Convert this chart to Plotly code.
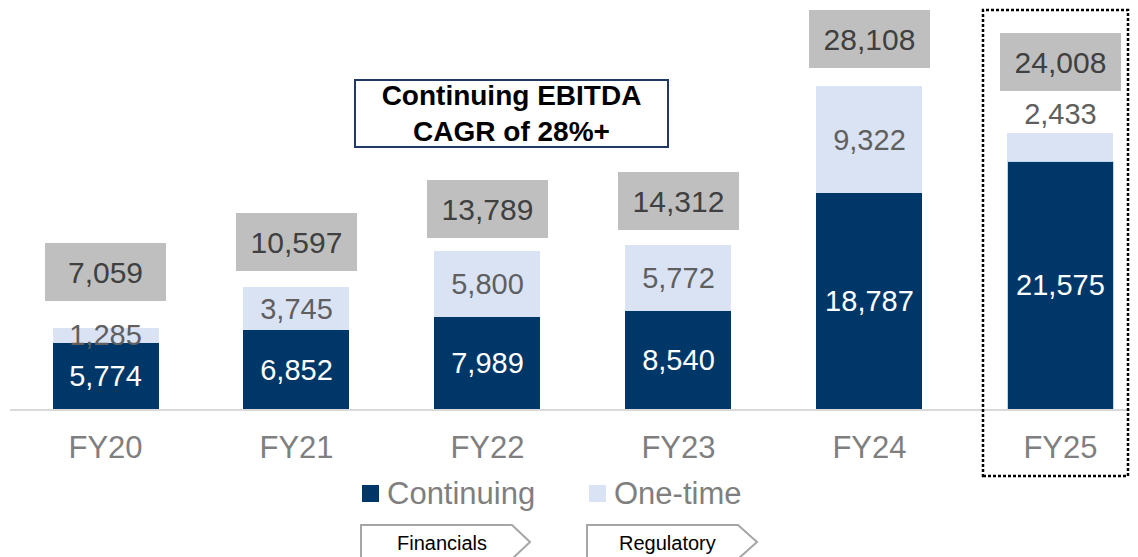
import plotly.graph_objects as go

# ---------------- data ----------------
categories = ["FY20", "FY21", "FY22", "FY23", "FY24", "FY25"]
continuing = [5774, 6852, 7989, 8540, 18787, 21575]
one_time = [1285, 3745, 5800, 5772, 9322, 2433]
totals = [7059, 10597, 13789, 14312, 28108, 24008]
series_names = ["Continuing", "One-time"]
cagr_text = "<b>Continuing EBITDA<br>CAGR of 28%+</b>"
tab_labels = ["Financials", "Regulatory"]

# ---------------- style / layout ----------------
OFF = 8                      # default page body margin
W, H = 1138 - OFF, 557 - OFF
L, R, T, B = 2, 0, 0, 148
PW, PH = W - L - R, H - T - B
NAVY = "#003769"
LIGHT = "#DAE3F3"
GREY_BOX = "#BFBFBF"
FONT = "Arial, Liberation Sans, sans-serif"
one_time_pos = ["inside", "inside", "inside", "inside", "inside", "outside"]
total_box_gap_px = [27, 16, 13, 15, 18, 42]


def pp(px, py):
    """page pixel -> paper coords"""
    return (px - OFF - L) / PW, 1 - (py - OFF - T) / PH


fig = go.Figure()
fig.add_bar(
    x=categories, y=continuing, name=series_names[0],
    marker=dict(color=NAVY, line=dict(color=["rgba(0,0,0,0)"] * 5 + ["#BDD7EE"], width=1)),
    width=0.555,
    text=[f"{v:,}" for v in continuing], textposition="inside",
    insidetextanchor="middle",
    textfont=dict(size=29, color="white", family=FONT),
    showlegend=False, hoverinfo="skip",
)
fig.add_bar(
    x=categories, y=one_time, name=series_names[1],
    marker=dict(color=LIGHT, line=dict(width=0)),
    width=0.555,
    text=[f"{v:,}" for v in one_time], textposition=one_time_pos,
    insidetextanchor="middle",
    textfont=dict(size=29, color="#5F5F5F", family=FONT),
    outsidetextfont=dict(size=29, color="#5F5F5F", family=FONT),
    cliponaxis=False,
    showlegend=False, hoverinfo="skip",
)

annotations = []
# total boxes
for c, tot, gap in zip(categories, totals, total_box_gap_px):
    annotations.append(dict(
        x=c, y=tot, xref="x", yref="y", yanchor="bottom", yshift=gap,
        text=f"{tot:,}", showarrow=False,
        bgcolor=GREY_BOX, width=121, height=58, borderpad=0, borderwidth=0,
        font=dict(size=30, color="#404040", family=FONT),
    ))

# CAGR callout
cx, cy = pp(511.5, 113.5)
annotations.append(dict(
    x=cx, y=cy, xref="paper", yref="paper", xanchor="center", yanchor="middle",
    text=cagr_text, showarrow=False, bgcolor="white",
    bordercolor="#1F3864", borderwidth=2, borderpad=0, width=311, height=65,
    font=dict(size=28, color="black", family=FONT),
))

shapes = []
# manual legend
legend_items = [(362, series_names[0], NAVY), (589, series_names[1], LIGHT)]
for lx, name, col in legend_items:
    x0, y0 = pp(lx, 502)
    x1, y1 = pp(lx + 17, 485)
    shapes.append(dict(type="rect", xref="paper", yref="paper", x0=x0, y0=y0, x1=x1, y1=y1,
                       fillcolor=col, line=dict(width=0)))
    tx, ty = pp(lx + 23, 493.5)
    annotations.append(dict(x=tx, y=ty, xref="paper", yref="paper", xanchor="left", yanchor="middle",
                            text=name, showarrow=False,
                            font=dict(size=31, color="#7F7F7F", family=FONT)))

# dotted highlight box around FY25
x0, y0 = pp(983, 476)
x1, y1 = pp(1128, 10)
shapes.append(dict(type="rect", xref="paper", yref="paper", x0=x0, y0=y0, x1=x1, y1=y1,
                   line=dict(color="black", width=2.5, dash="3px,2px"), fillcolor="rgba(0,0,0,0)"))

# chevron tabs at bottom
tabs = [(361, 512, 530, tab_labels[0]), (587, 738, 757, tab_labels[1])]
for xl, xr, xp, lab in tabs:
    pts = [(xl, 525), (xr, 525), (xp, 542), (xr, 559), (xl, 559)]
    conv = [pp(a, b) for a, b in pts]
    path = "M " + " L ".join(f"{a:.5f},{b:.5f}" for a, b in conv) + " Z"
    shapes.append(dict(type="path", xref="paper", yref="paper", path=path,
                       line=dict(color="#A6A6A6", width=2), fillcolor="white"))
    tx, ty = pp((xl + xr) / 2 + 5, 543)
    annotations.append(dict(x=tx, y=ty, xref="paper", yref="paper", xanchor="center", yanchor="middle",
                            text=lab, showarrow=False,
                            font=dict(size=20, color="black", family=FONT)))

fig.update_layout(
    width=W, height=H,
    margin=dict(l=L, r=R, t=T, b=B),
    barmode="stack",
    paper_bgcolor="white", plot_bgcolor="white",
    font=dict(family=FONT),
    uniformtext=dict(minsize=29, mode="show"),
    xaxis=dict(
        type="category", range=[-0.5, 5.406],
        showline=True, linecolor="#D9D9D9", linewidth=2,
        showgrid=False, zeroline=False,
        ticks="", ticklabelstandoff=10,
        tickfont=dict(size=31, color="#7F7F7F", family=FONT),
    ),
    yaxis=dict(range=[0, 401 / 0.011489], visible=False, showgrid=False, zeroline=False),
    annotations=annotations,
    shapes=shapes,
    showlegend=False,
)

fig.write_html("out.html")
